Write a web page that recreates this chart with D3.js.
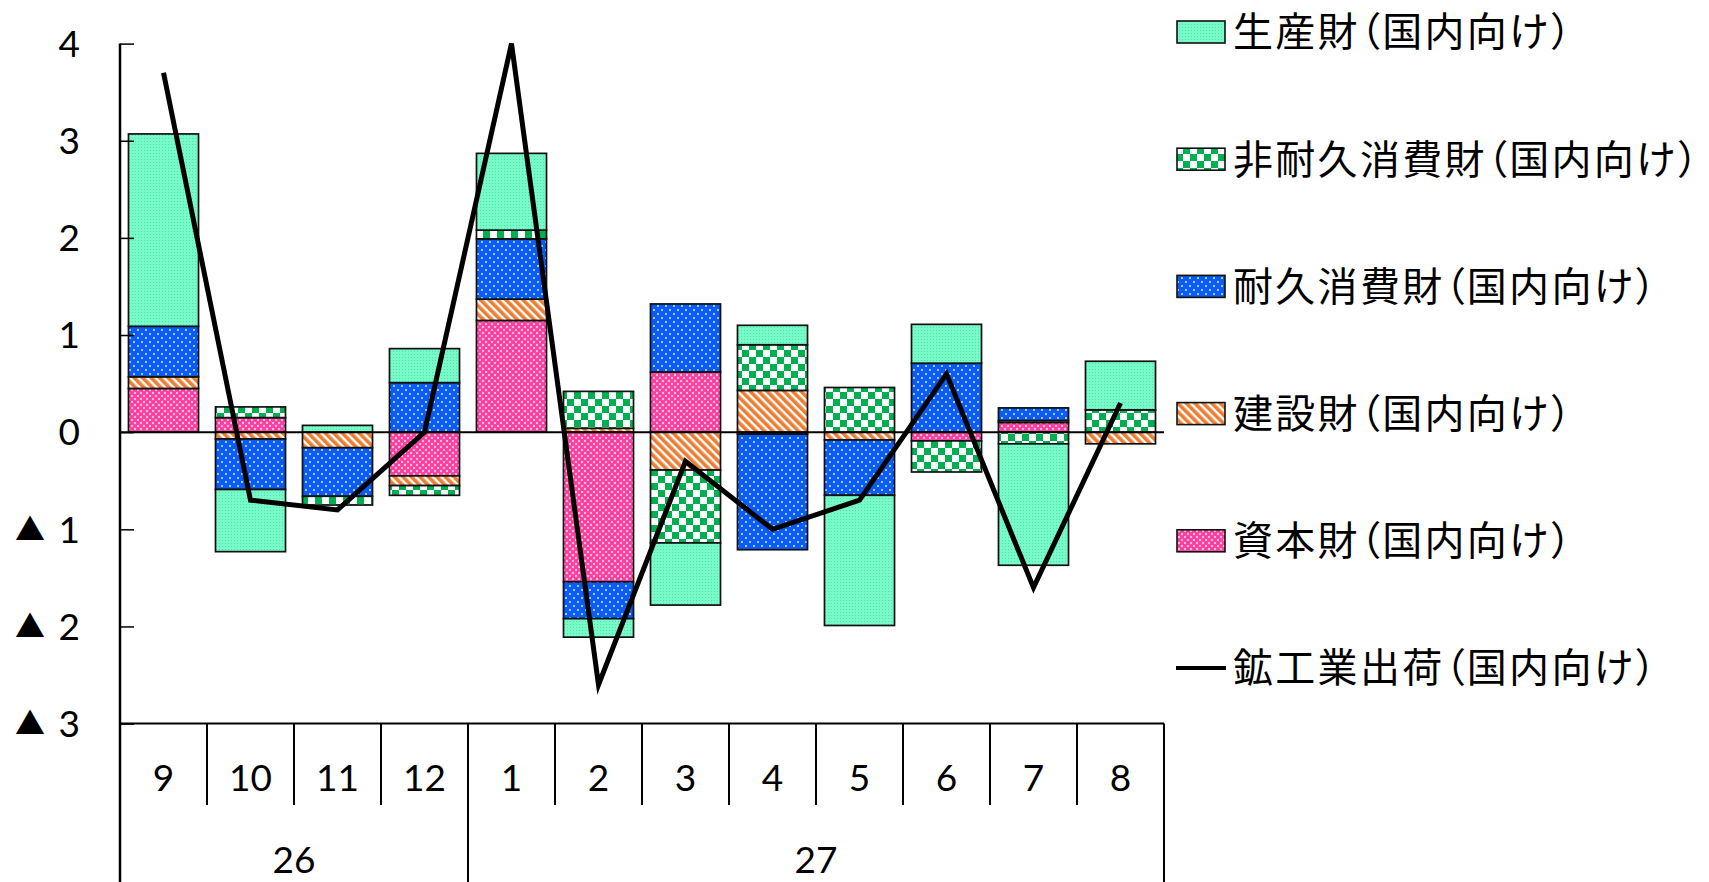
<!DOCTYPE html>
<html>
<head>
<meta charset="utf-8">
<script src="https://cdn.jsdelivr.net/npm/d3@7"></script>
<style>
  html, body { margin: 0; padding: 0; background: #fff; }
  svg { display: block; }
  .num { font-family: Lato, "Open Sans", sans-serif; }
  .jp { font-family: "Noto Sans CJK JP", sans-serif; }
  .narrow { font-feature-settings: "palt"; }
</style>
</head>
<body>
<svg id="chart" width="1709" height="882"></svg>
<script>
// Months and fiscal years along the category axis
const months = ["9", "10", "11", "12", "1", "2", "3", "4", "5", "6", "7", "8"];
const years = [{ label: "26", from: 0, to: 4 }, { label: "27", from: 4, to: 12 }];

// Contributions by goods type (percentage points), stacked bottom to top
const capitalGoods     = [0.45, 0.15, 0.00, -0.45, 1.15, -1.54, 0.62, -0.02, 0.00, -0.09, 0.10, 0.00];
const constructionGoods= [0.12, -0.07, -0.16, -0.10, 0.22, 0.04, -0.39, 0.43, -0.08, 0.00, 0.02, -0.12];
const durableGoods     = [0.52, -0.52, -0.50, 0.51, 0.62, -0.38, 0.70, -1.19, -0.57, 0.71, 0.13, 0.00];
const nondurableGoods  = [0.00, 0.11, -0.09, -0.10, 0.09, 0.38, -0.75, 0.47, 0.46, -0.32, -0.12, 0.23];
const producerGoods    = [1.98, -0.64, 0.07, 0.35, 0.79, -0.19, -0.64, 0.20, -1.34, 0.40, -1.25, 0.50];

// Total domestic shipments of mining and manufacturing
const totalShipments   = [3.7, -0.7, -0.8, 0.0, 4.0, -2.6, -0.3, -1.0, -0.7, 0.6, -1.6, 0.3];

const yTicks = [4, 3, 2, 1, 0, -1, -2, -3];

const seriesKeys = ["capital", "construction", "durable", "nondurable", "producer"];
const seriesNames = {
  capital: "資本財（国内向け）",
  construction: "建設財（国内向け）",
  durable: "耐久消費財（国内向け）",
  nondurable: "非耐久消費財（国内向け）",
  producer: "生産財（国内向け）"
};
const lineName = "鉱工業出荷（国内向け）";

const table = months.map((m, i) => ({
  idx: i,
  capital: capitalGoods[i],
  construction: constructionGoods[i],
  durable: durableGoods[i],
  nondurable: nondurableGoods[i],
  producer: producerGoods[i]
}));

const svg = d3.select("#chart");

// ---- fill patterns ----
const defs = svg.append("defs");

// producer goods: mint with fine dots
let p = defs.append("pattern").attr("id", "pat-producer").attr("patternUnits", "userSpaceOnUse")
  .attr("width", 3).attr("height", 3);
p.append("rect").attr("width", 3).attr("height", 3).attr("fill", "#78fbc8");
p.append("rect").attr("width", 1).attr("height", 1).attr("fill", "#4be6a9");

// non-durable goods: green checkerboard
p = defs.append("pattern").attr("id", "pat-nondurable").attr("patternUnits", "userSpaceOnUse")
  .attr("width", 14).attr("height", 14);
p.append("rect").attr("width", 14).attr("height", 14).attr("fill", "#ffffff");
p.append("rect").attr("width", 7).attr("height", 7).attr("fill", "#00b050");
p.append("rect").attr("x", 7).attr("y", 7).attr("width", 7).attr("height", 7).attr("fill", "#00b050");

// durable goods: blue with white dots
p = defs.append("pattern").attr("id", "pat-durable").attr("patternUnits", "userSpaceOnUse")
  .attr("width", 8).attr("height", 8);
p.append("rect").attr("width", 8).attr("height", 8).attr("fill", "#0a5cf7");
p.append("circle").attr("cx", 2).attr("cy", 2).attr("r", 1).attr("fill", "#dfe9ff");
p.append("circle").attr("cx", 6).attr("cy", 6).attr("r", 1).attr("fill", "#dfe9ff");

// construction goods: orange diagonal stripes
p = defs.append("pattern").attr("id", "pat-construction").attr("patternUnits", "userSpaceOnUse")
  .attr("width", 6).attr("height", 6).attr("patternTransform", "rotate(-45)");
p.append("rect").attr("width", 6).attr("height", 6).attr("fill", "#ffffff");
p.append("rect").attr("width", 3.6).attr("height", 6).attr("fill", "#ed7d31");

// capital goods: pink lattice
p = defs.append("pattern").attr("id", "pat-capital").attr("patternUnits", "userSpaceOnUse")
  .attr("width", 6).attr("height", 6);
p.append("rect").attr("width", 6).attr("height", 6).attr("fill", "#ff3c9e");
[[0, 0], [6, 0], [0, 6], [6, 6], [3, 3]].forEach(([cx, cy]) =>
  p.append("circle").attr("cx", cx).attr("cy", cy).attr("r", 1.2).attr("fill", "#ffc0e0"));

const fills = {
  capital: "url(#pat-capital)",
  construction: "url(#pat-construction)",
  durable: "url(#pat-durable)",
  nondurable: "url(#pat-nondurable)",
  producer: "url(#pat-producer)"
};

// ---- scales ----
const plotLeft = 120, plotRight = 1164, plotTop = 43.6, plotBottom = 723.6;
const x = d3.scaleBand().domain(d3.range(months.length)).range([plotLeft, plotRight]).padding(0);
const y = d3.scaleLinear().domain([-3, 4]).range([plotBottom, plotTop]);
const barW = x.bandwidth() * 0.805;

// ---- stacked bars ----
const stacked = d3.stack().keys(seriesKeys).offset(d3.stackOffsetDiverging)(table);

const gBars = svg.append("g");
stacked.forEach(layer => {
  gBars.append("g")
    .selectAll("rect")
    .data(layer.filter(d => Math.abs(d[1] - d[0]) > 1e-9))
    .join("rect")
    .attr("x", d => x(d.data.idx) + (x.bandwidth() - barW) / 2)
    .attr("y", d => y(Math.max(d[0], d[1])))
    .attr("width", barW)
    .attr("height", d => Math.abs(y(d[0]) - y(d[1])))
    .attr("fill", fills[layer.key])
    .attr("stroke", "#111")
    .attr("stroke-width", 1.7);
});

// ---- zero line ----
svg.append("line")
  .attr("x1", plotLeft).attr("x2", plotRight)
  .attr("y1", y(0)).attr("y2", y(0))
  .attr("stroke", "#000").attr("stroke-width", 2);

// ---- value axis ----
const axisG = svg.append("g").attr("transform", `translate(${plotLeft},0)`)
  .call(d3.axisRight(y).tickValues(yTicks).tickSize(14).tickFormat(""));
axisG.select(".domain").remove();
axisG.selectAll(".tick line").attr("stroke", "#000").attr("stroke-width", 1.5);

svg.append("line")
  .attr("x1", plotLeft).attr("x2", plotLeft)
  .attr("y1", y(4)).attr("y2", 882)
  .attr("stroke", "#000").attr("stroke-width", 2.5);

// tick labels: negatives carry a ▲ marker on the left
const tickLabels = svg.append("g").selectAll("text")
  .data(yTicks)
  .join("text")
  .attr("y", d => y(d))
  .attr("font-size", 37)
  .attr("fill", "#000");
tickLabels.filter(d => d < 0)
  .append("tspan")
  .attr("class", "jp")
  .attr("x", 15)
  .attr("dy", "0.36em")
  .attr("text-anchor", "start")
  .attr("font-size", 30)
  .text("▲");
tickLabels.append("tspan")
  .attr("class", "num")
  .attr("x", 80)
  .attr("y", d => y(d))
  .attr("dy", "0.36em")
  .attr("text-anchor", "end")
  .text(d => (d < 0 ? " " : "") + Math.abs(d));

// ---- category axis ----
svg.append("line")
  .attr("x1", plotLeft).attr("x2", plotRight)
  .attr("y1", plotBottom).attr("y2", plotBottom)
  .attr("stroke", "#000").attr("stroke-width", 2);

const monthRowBottom = 805;
svg.append("g").selectAll("line")
  .data(d3.range(1, months.length).filter(i => !years.some(yr => yr.from === i)))
  .join("line")
  .attr("x1", i => x(i)).attr("x2", i => x(i))
  .attr("y1", plotBottom).attr("y2", monthRowBottom)
  .attr("stroke", "#000").attr("stroke-width", 2);

svg.append("g").selectAll("line")
  .data([...years.map(yr => yr.from), months.length])
  .join("line")
  .attr("x1", i => i === months.length ? plotRight : x(i))
  .attr("x2", i => i === months.length ? plotRight : x(i))
  .attr("y1", plotBottom).attr("y2", 882)
  .attr("stroke", "#000").attr("stroke-width", 2);

svg.append("g").selectAll("text")
  .data(months)
  .join("text")
  .attr("class", "num")
  .attr("x", (d, i) => x(i) + x.bandwidth() / 2)
  .attr("y", 791)
  .attr("text-anchor", "middle")
  .attr("font-size", 37)
  .text(d => d);

svg.append("g").selectAll("text")
  .data(years)
  .join("text")
  .attr("class", "num")
  .attr("x", d => (x(d.from) + (d.to === months.length ? plotRight : x(d.to))) / 2)
  .attr("y", 873)
  .attr("text-anchor", "middle")
  .attr("font-size", 37)
  .text(d => d.label);

// ---- total shipments line ----
const line = d3.line()
  .x((d, i) => x(i) + x.bandwidth() / 2)
  .y(d => y(d));
svg.append("path")
  .datum(totalShipments)
  .attr("d", line)
  .attr("fill", "none")
  .attr("stroke", "#000")
  .attr("stroke-width", 5)
  .attr("stroke-linejoin", "miter");

// ---- legend ----
const legendItems = [
  { key: "producer", name: seriesNames.producer },
  { key: "nondurable", name: seriesNames.nondurable },
  { key: "durable", name: seriesNames.durable },
  { key: "construction", name: seriesNames.construction },
  { key: "capital", name: seriesNames.capital },
  { key: "line", name: lineName }
];
const legend = svg.append("g");
const rowY = i => 32 + i * 127.2;
legendItems.forEach((it, i) => {
  const cy = rowY(i);
  if (it.key === "line") {
    legend.append("line")
      .attr("x1", 1176).attr("x2", 1226)
      .attr("y1", cy).attr("y2", cy)
      .attr("stroke", "#000").attr("stroke-width", 4);
  } else {
    legend.append("rect")
      .attr("x", 1177).attr("y", cy - 11)
      .attr("width", 48).attr("height", 22)
      .attr("fill", fills[it.key])
      .attr("stroke", "#111").attr("stroke-width", 1.6);
  }
  const t = legend.append("text")
    .attr("class", "jp")
    .attr("x", 1233)
    .attr("y", cy)
    .attr("dy", "0.36em")
    .attr("font-size", 40)
    .attr("letter-spacing", 2.3)
    .attr("fill", "#000");
  // brackets are set proportionally, the rest at full width
  it.name.split(/([（）])/).filter(s => s.length).forEach(part => {
    t.append("tspan")
      .attr("class", /[（）]/.test(part) ? "narrow" : null)
      .text(part);
  });
});
</script>
</body>
</html>
